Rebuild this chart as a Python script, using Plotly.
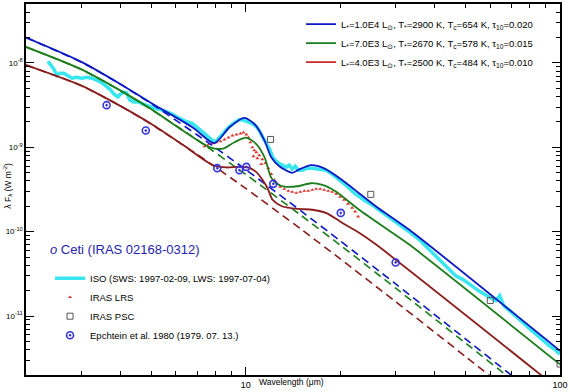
import plotly.graph_objects as go
import math

# ---------------- data (wavelength in micron, lambda*F_lambda in W m^-2) ----------------
# stellar photospheres (dashed)
phot_lam = [2, 3, 4, 5, 7, 10, 15, 20, 30, 50, 70, 100]
phot1 = [2.0e-8, 1.023e-8, 5.57e-9, 3.30e-9, 1.41e-9, 5.45e-10, 1.76e-10, 7.77e-11, 2.40e-11, 5.37e-12, 1.99e-12, 6.9e-13]
phot2 = [1.55e-8, 8.38e-9, 4.68e-9, 2.82e-9, 1.23e-9, 4.78e-10, 1.56e-10, 6.90e-11, 2.14e-11, 4.80e-12, 1.78e-12, 6.2e-13]
phot3 = [9.44e-9, 5.39e-9, 3.08e-9, 1.88e-9, 8.27e-10, 3.26e-10, 1.07e-10, 4.75e-11, 1.48e-11, 3.32e-12, 1.23e-12, 4.3e-13]

# full models (solid)
m1_lam = [2, 3, 4, 5, 6.77, 7.95, 8.88, 9.90, 10.66, 11.47, 12.06, 12.79, 14.07, 14.80, 16.16, 17.77, 20.26, 22.95, 25.98, 33.06, 100]
m1_flux = [2.0e-8, 1.03e-8, 5.6e-9, 3.35e-9, 1.73e-9, 1.12e-9, 1.73e-9, 2.23e-9, 1.89e-9, 1.21e-9, 7.62e-10, 5.97e-10, 4.99e-10, 5.47e-10, 6.14e-10, 5.62e-10, 4.10e-10, 2.86e-10, 1.99e-10, 1.06e-10, 3.87e-12]

m2_lam = [2, 3, 4, 5, 6.31, 7.67, 8.45, 9.21, 10.03, 10.79, 11.47, 12.04, 12.5, 13.27, 14.80, 16.12, 17.55, 19.35, 22.95, 29.27, 33.06, 100]
m2_flux = [1.55e-8, 8.4e-9, 4.7e-9, 2.84e-9, 1.58e-9, 1.006e-9, 9.63e-10, 1.15e-9, 1.30e-9, 1.10e-9, 7.68e-10, 4.4e-10, 3.75e-10, 3.42e-10, 3.48e-10, 3.75e-10, 3.58e-10, 2.99e-10, 1.82e-10, 9.71e-11, 7.08e-11, 2.67e-12]

m3_lam = [2, 3, 4, 5, 6.31, 7.86, 8.67, 9.43, 10.15, 10.79, 11.32, 11.74, 12.18, 13.10, 14.80, 16.31, 17.99, 20.31, 22.95, 25.93, 100]
m3_flux = [9.44e-9, 5.39e-9, 3.08e-9, 1.9e-9, 1.07e-9, 6.14e-10, 5.77e-10, 5.86e-10, 5.77e-10, 5.12e-10, 4.10e-10, 3.27e-10, 2.39e-10, 1.99e-10, 1.86e-10, 1.82e-10, 1.67e-10, 1.27e-10, 9.71e-11, 7.08e-11, 1.32e-12]

# ISO SWS+LWS spectrum
iso_lam = [2.349, 2.401, 2.454, 2.508, 2.564, 2.640, 2.698, 2.799, 2.903, 3.011, 3.123, 3.239, 3.359, 3.459,
           3.562, 3.695, 3.805, 3.918, 4.005, 4.093, 4.183, 4.276, 4.402, 4.566, 4.701, 4.876, 5.058, 5.208,
           5.402, 5.603, 5.812, 6.028, 6.252, 6.485, 6.775, 7.026, 7.287, 7.557, 7.781, 7.955, 8.251, 8.557,
           8.875, 9.207, 9.549, 9.832, 10.12, 10.50, 10.81, 11.05, 11.30, 11.63, 11.89, 12.18, 12.42, 12.79,
           13.17, 13.46, 13.76, 14.06, 14.38, 14.70, 15.13, 15.70, 16.28, 16.88, 17.38, 18.03, 18.84, 19.54,
           20.27, 21.33, 22.12, 22.95, 23.98, 25.23, 26.56, 27.95, 29.63, 31.18, 33.06, 35.57, 39.12, 42.07,
           44.29, 46.61, 49.40, 52.38, 55.13, 59.32, 62.43, 64.28, 66.19, 69.15, 72.25, 76.60, 81.21, 86.09,
           91.93, 96.76, 100.0]
iso_flux = [1.045e-8, 9.38e-9, 8.42e-9, 7.16e-9, 7.56e-9, 7.56e-9, 7.16e-9, 6.60e-9, 6.78e-9, 6.60e-9, 6.78e-9, 6.60e-9, 6.25e-9, 5.93e-9,
            5.47e-9, 4.91e-9, 4.29e-9, 3.96e-9, 4.29e-9, 4.52e-9, 4.41e-9, 3.65e-9, 3.45e-9, 3.45e-9, 3.27e-9, 3.10e-9, 2.94e-9, 2.86e-9,
            2.78e-9, 2.64e-9, 2.50e-9, 2.30e-9, 2.13e-9, 2.01e-9, 1.91e-9, 1.71e-9, 1.51e-9, 1.38e-9, 1.24e-9, 1.15e-9, 1.31e-9, 1.54e-9,
            1.76e-9, 1.96e-9, 2.13e-9, 2.10e-9, 2.01e-9, 1.91e-9, 1.76e-9, 1.58e-9, 1.34e-9, 1.10e-9, 9.71e-10, 7.68e-10, 7.03e-10, 6.43e-10,
            6.14e-10, 5.82e-10, 6.14e-10, 5.51e-10, 5.98e-10, 5.36e-10, 5.36e-10, 5.66e-10, 5.66e-10, 5.51e-10, 5.51e-10, 5.36e-10, 4.82e-10, 4.32e-10,
            3.78e-10, 3.30e-10, 2.88e-10, 2.59e-10, 2.32e-10, 2.08e-10, 1.82e-10, 1.59e-10, 1.35e-10, 1.18e-10, 1.006e-10, 8.11e-11, 5.71e-11, 4.48e-11,
            3.61e-11, 2.99e-11, 2.68e-11, 2.28e-11, 1.99e-11, 1.69e-11, 1.52e-11, 1.74e-11, 1.33e-11, 1.16e-11, 1.01e-11, 8.40e-12, 6.77e-12, 5.60e-12,
            4.51e-12, 3.94e-12, 3.54e-12]

# IRAS LRS spectrum (points)
lrs_lam = [7.394, 7.613, 7.839, 8.072, 8.312, 8.557, 8.811, 9.072, 9.342, 9.619, 9.832, 10.05, 10.20, 10.35,
           10.50, 10.66, 10.81, 11.05, 11.30, 11.54, 11.80, 12.06, 12.33, 12.60, 12.88, 13.27, 13.66, 14.06,
           14.48, 14.91, 15.36, 15.81, 16.28, 16.76, 17.26, 17.77, 18.30, 18.84, 19.40, 19.97, 20.56, 21.17,
           21.80, 22.29, 22.79, 10.58, 10.89, 11.21]
lrs_flux = [1.026e-9, 1.082e-9, 1.112e-9, 1.142e-9, 1.173e-9, 1.238e-9, 1.307e-9, 1.380e-9, 1.418e-9, 1.457e-9, 1.496e-9, 1.418e-9, 1.307e-9, 1.142e-9,
            9.98e-10, 9.20e-10, 8.72e-10, 8.04e-10, 7.22e-10, 6.48e-10, 5.66e-10, 4.82e-10, 4.10e-10, 3.68e-10, 3.39e-10, 3.21e-10, 3.04e-10, 2.96e-10,
            2.88e-10, 2.96e-10, 3.04e-10, 3.04e-10, 3.13e-10, 3.21e-10, 3.21e-10, 3.13e-10, 3.04e-10, 2.96e-10, 2.81e-10, 2.59e-10, 2.39e-10, 2.14e-10,
            1.92e-10, 1.73e-10, 1.51e-10, 7.83e-10, 7.42e-10, 6.31e-10]

# IRAS PSC photometry
psc_lam = [12, 25, 60, 100]
psc_flux = [1.24e-9, 2.77e-10, 1.53e-11, 2.70e-12]

# Epchtein et al. 1980 photometry
ep_lam = [3.61, 4.81, 8.12, 9.55, 10.05, 12.24, 20.07, 30.0]
ep_flux = [3.16e-9, 1.58e-9, 5.66e-10, 5.36e-10, 5.86e-10, 3.69e-10, 1.67e-10, 4.32e-11]

model_names = [
    "L<sub>*</sub>=1.0E4 L<sub>\u2299</sub>, T<sub>*</sub>=2900 K, T<sub>c</sub>=654 K, \u03c4<sub>10</sub>=0.020",
    "L<sub>*</sub>=7.0E3 L<sub>\u2299</sub>, T<sub>*</sub>=2670 K, T<sub>c</sub>=578 K, \u03c4<sub>10</sub>=0.015",
    "L<sub>*</sub>=4.0E3 L<sub>\u2299</sub>, T<sub>*</sub>=2500 K, T<sub>c</sub>=484 K, \u03c4<sub>10</sub>=0.010",
]
obs_names = [
    "ISO (SWS: 1997-02-09, LWS: 1997-07-04)",
    "IRAS LRS",
    "IRAS PSC",
    "Epchtein et al. 1980 (1979. 07. 13.)",
]
x_ticks = [10, 100]
y_ticks = [1e-11, 1e-10, 1e-9, 1e-8]
y_ticktext = ["10<sup>-11</sup>", "10<sup>-10</sup>", "10<sup>-9</sup>", "10<sup>-8</sup>"]

# ---------------- styling ----------------
BLUE = "#0c18c4"
GREEN = "#1b7d1b"
MAROON = "#8a1c1c"
LEG_RED = "#c8282a"
CYAN = "#38e6f0"
FONT = "Liberation Sans, Arial, sans-serif"

fig = go.Figure()

fig.add_trace(go.Scatter(x=iso_lam, y=iso_flux, mode="lines", line=dict(color=CYAN, width=3.5),
                         name=obs_names[0], legend="legend2"))
fig.add_trace(go.Scatter(x=lrs_lam, y=lrs_flux, mode="markers",
                         marker=dict(symbol="triangle-up", size=3.5, color="#e8302a"),
                         name=obs_names[1], legend="legend2"))

for lam, fl, col in [(phot_lam, phot1, BLUE), (phot_lam, phot2, GREEN), (phot_lam, phot3, MAROON)]:
    fig.add_trace(go.Scatter(x=lam, y=fl, mode="lines",
                             line=dict(color=col, width=1.6, dash="8px,5px", shape="spline", smoothing=0.6),
                             showlegend=False, hoverinfo="skip"))

for lam, fl, col in [(m1_lam, m1_flux, BLUE), (m2_lam, m2_flux, GREEN), (m3_lam, m3_flux, MAROON)]:
    fig.add_trace(go.Scatter(x=lam, y=fl, mode="lines",
                             line=dict(color=col, width=1.8, shape="spline", smoothing=0.7),
                             showlegend=False))

fig.add_trace(go.Scatter(x=psc_lam, y=psc_flux, mode="markers",
                         marker=dict(symbol="square-open", size=6, color="#555555", line=dict(width=1)),
                         name=obs_names[2], legend="legend2"))
fig.add_trace(go.Scatter(x=ep_lam, y=ep_flux, mode="markers",
                         marker=dict(symbol="circle-open-dot", size=7, color="#3535e0", line=dict(width=1.6)),
                         name=obs_names[3], legend="legend2"))

# legend entries for the models
for nm, col in zip(model_names, [BLUE, GREEN, LEG_RED]):
    fig.add_trace(go.Scatter(x=[None], y=[None], mode="lines", line=dict(color=col, width=1.8),
                             name=nm, legend="legend"))

axis_common = dict(
    showline=True, linecolor="black", linewidth=1.5, mirror="ticks",
    ticks="inside", ticklen=8, tickwidth=1, tickcolor="black",
    showgrid=False, zeroline=False,
    minor=dict(ticks="inside", ticklen=4, tickcolor="black", tickwidth=1, dtick="D1", showgrid=False),
)

fig.update_xaxes(type="log", range=[math.log10(2), 2], tickmode="array", tickvals=x_ticks,
                 ticktext=[str(v) for v in x_ticks], tickfont=dict(size=9, family=FONT, color="black"),
                 **axis_common)
fig.update_yaxes(type="log", range=[math.log10(2e-12), math.log10(5e-8)], tickmode="array",
                 tickvals=y_ticks, ticktext=y_ticktext, tickfont=dict(size=8, family=FONT, color="black"),
                 **axis_common)

fig.update_layout(
    width=570, height=392,
    margin=dict(l=26, r=8, t=2, b=15),
    paper_bgcolor="white", plot_bgcolor="white",
    font=dict(family=FONT, color="black"),
    legend=dict(x=0.515, y=0.985, xanchor="left", yanchor="top", bgcolor="rgba(0,0,0,0)",
                font=dict(size=9.5, family=FONT), tracegroupgap=0),
    legend2=dict(x=0.045, y=0.30, xanchor="left", yanchor="top", bgcolor="rgba(0,0,0,0)",
                 font=dict(size=9.5, family=FONT), tracegroupgap=0),
    annotations=[
        dict(text="<i>o</i> Ceti (IRAS 02168-0312)", xref="paper", yref="paper", x=0.041, y=0.339,
             xanchor="left", yanchor="middle", showarrow=False, font=dict(size=13, color="#2424b0", family=FONT)),
        dict(text="\u03bb F<sub>\u03bb</sub> (W m<sup>-2</sup>)", xref="paper", yref="paper", x=-0.034, y=0.51,
             xanchor="center", yanchor="middle", textangle=-90, showarrow=False, font=dict(size=8.5, family=FONT)),
        dict(text="Wavelength (\u03bcm)", xref="paper", yref="paper", x=0.497, y=-0.019,
             xanchor="center", yanchor="middle", showarrow=False, font=dict(size=8.5, family=FONT)),
    ],
)

fig.write_html("out.html", config={"displayModeBar": False},
               post_script="document.body.style.margin='0';document.body.style.overflow='hidden';")
